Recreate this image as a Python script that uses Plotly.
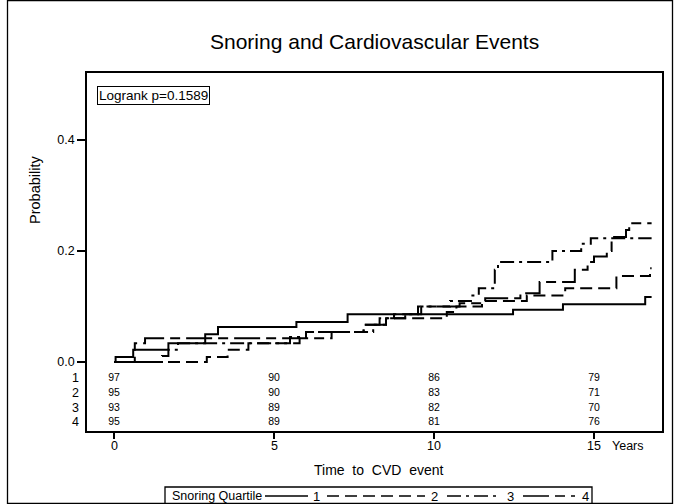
import plotly.graph_objects as go

# ---------------- data ----------------
quartiles = ["1", "2", "3", "4"]

t1 = [0, 0.05, 0.6, 1.7, 2.85, 3.25, 5.7, 7.3, 12.47, 14.03, 16.6, 16.8]
v1 = [0, 0.009, 0.022, 0.034, 0.05, 0.063, 0.072, 0.086, 0.094, 0.104, 0.117, 0.117]

t2 = [0, 2.9, 3.55, 4.2, 5.8, 6.0, 7.8, 8.5, 10.4, 10.7, 11.5, 12.9, 14.1, 15.7, 16.75, 16.8]
v2 = [0, 0.009, 0.022, 0.034, 0.045, 0.054, 0.067, 0.079, 0.09, 0.1, 0.11, 0.12, 0.133, 0.155, 0.169, 0.169]

t3 = [0, 1.5, 1.7, 2.0, 5.5, 6.0, 8.1, 8.3, 9.1, 9.6, 10.5, 11.2, 11.4, 11.9, 12.0, 13.7, 14.6, 14.9, 16.8]
v3 = [0, 0.011, 0.022, 0.034, 0.045, 0.054, 0.067, 0.079, 0.086, 0.1, 0.11, 0.12, 0.133, 0.166, 0.18, 0.2, 0.213, 0.223, 0.223]

t4 = [0, 0.65, 0.97, 6.8, 7.8, 8.5, 8.75, 9.5, 10.8, 11.6, 12.7, 13.3, 14.4, 14.8, 15.0, 15.4, 15.55, 16.0, 16.1, 16.8]
v4 = [0, 0.034, 0.043, 0.054, 0.067, 0.079, 0.086, 0.1, 0.106, 0.115, 0.124, 0.144, 0.166, 0.18, 0.19, 0.2, 0.225, 0.238, 0.25, 0.25]

risk_times = [0, 5, 10, 15]
risk_q1 = [97, 90, 86, 79]
risk_q2 = [95, 90, 83, 71]
risk_q3 = [93, 89, 82, 70]
risk_q4 = [95, 89, 81, 76]

x_ticks = [0, 5, 10, 15]
x_ticktext = ["0", "5", "10", "15"]
y_ticks = [0, 0.2, 0.4]
y_ticktext = ["0.0", "0.2", "0.4"]

title_text = "Snoring and Cardiovascular Events"
logrank_text = "Logrank p=0.1589"

# ---------------- layout helpers ----------------
W, H = 676, 504
L, R, T, B = 87, 662, 73, 431  # plot area in pixels
FONT = "Liberation Sans, Arial, sans-serif"


def px(x):
    return (x - L) / (R - L)


def py(y):
    return (B - y) / (B - T)


dashes = ["solid", "12px,6px", "14px,5px,3px,5px", "26px,6px,10px,6px"]
curves = [(t1, v1), (t2, v2), (t3, v3), (t4, v4)]
risks = [risk_q1, risk_q2, risk_q3, risk_q4]
row_y = [-0.0288, -0.0559, -0.0829, -0.1081]

fig = go.Figure()
for (t, v), d, q in zip(curves, dashes, quartiles):
    fig.add_trace(go.Scatter(
        x=t, y=v, mode="lines", name=q, showlegend=False,
        line=dict(shape="hv", color="black", width=2, dash=d),
        hoverinfo="skip"))

for r, yy in zip(risks, row_y):
    fig.add_trace(go.Scatter(
        x=risk_times, y=[yy] * len(risk_times), mode="text",
        text=[str(n) for n in r], textposition="middle center",
        textfont=dict(family=FONT, size=10.5, color="black"),
        showlegend=False, hoverinfo="skip", cliponaxis=False))

ann = []
# title
ann.append(dict(xref="paper", yref="paper", x=px(374), y=py(41), text=title_text,
                showarrow=False, font=dict(family=FONT, size=21, color="black"),
                xanchor="center", yanchor="middle"))
# logrank box
ann.append(dict(xref="paper", yref="paper", x=px(97), y=py(95.5), text=logrank_text,
                showarrow=False, font=dict(family=FONT, size=13.5, color="black"),
                xanchor="left", yanchor="middle", bordercolor="black", borderwidth=1,
                borderpad=1, bgcolor="white"))
# y title
ann.append(dict(xref="paper", yref="paper", x=px(35), y=py(190), text="Probability",
                showarrow=False, textangle=-90, font=dict(family=FONT, size=14.5, color="black"),
                xanchor="center", yanchor="middle"))
# row labels
for q, yy in zip(quartiles, row_y):
    ann.append(dict(xref="paper", yref="y", x=px(81), y=yy, text=q, showarrow=False,
                    font=dict(family=FONT, size=12.5, color="black"),
                    xanchor="right", yanchor="middle"))
# x tick labels
for xv, xt in zip(x_ticks, x_ticktext):
    ann.append(dict(xref="x", yref="paper", x=xv, y=py(446), text=xt, showarrow=False,
                    font=dict(family=FONT, size=12.5, color="black"),
                    xanchor="center", yanchor="middle"))
# Years
ann.append(dict(xref="paper", yref="paper", x=px(610), y=py(446), text="Years",
                showarrow=False, font=dict(family=FONT, size=12.5, color="black"),
                xanchor="left", yanchor="middle"))
# x title
ann.append(dict(xref="paper", yref="paper", x=px(379), y=py(470),
                text="Time\u00a0 to\u00a0 CVD\u00a0 event", showarrow=False,
                font=dict(family=FONT, size=14, color="black"),
                xanchor="center", yanchor="middle"))

# legend box
shapes = []
shapes.append(dict(type="rect", xref="paper", yref="paper", x0=px(165), x1=px(592),
                   y0=py(505), y1=py(487), line=dict(color="black", width=1.3)))
ann.append(dict(xref="paper", yref="paper", x=px(170), y=py(496),
                text="Snoring Quartile", showarrow=False,
                font=dict(family=FONT, size=12.5, color="black"),
                xanchor="left", yanchor="middle"))
leg_lines = [(265, 308, 316), (327, 425, 434), (447, 500, 510), (523, 575, 585)]
for (a, b, lab), d, q in zip(leg_lines, dashes, quartiles):
    shapes.append(dict(type="line", xref="paper", yref="paper", x0=px(a), x1=px(b),
                       y0=py(496), y1=py(496), line=dict(color="black", width=1.3, dash=d)))
    ann.append(dict(xref="paper", yref="paper", x=px(lab), y=py(496), text=q,
                    showarrow=False, font=dict(family=FONT, size=13, color="black"),
                    xanchor="center", yanchor="middle"))

# outer border
shapes.append(dict(type="rect", xref="paper", yref="paper", x0=px(7.5), x1=px(672.5),
                   y0=py(503.5), y1=py(0.5), line=dict(color="black", width=1.3)))

fig.update_layout(
    width=W, height=H, autosize=False,
    margin=dict(l=L, r=W - R, t=T, b=H - B, pad=0),
    paper_bgcolor="white", plot_bgcolor="white",
    font=dict(family=FONT, size=12.5, color="black"),
    annotations=ann, shapes=shapes, showlegend=False,
    xaxis=dict(range=[(L - 114) / 32, (R - 114) / 32], tickvals=x_ticks,
               showticklabels=False,
               ticks="outside", ticklen=6, tickwidth=1.8, tickcolor="black",
               showline=True, linecolor="black", linewidth=1.6, mirror=True,
               showgrid=False, zeroline=False),
    yaxis=dict(range=[-(B - 362) / 555, (362 - T) / 555], tickvals=y_ticks,
               ticktext=y_ticktext, ticks="outside", ticklen=8, tickwidth=1.8,
               tickcolor="black", showline=True, linecolor="black", linewidth=1.6,
               mirror=True, showgrid=False, zeroline=False, tickfont=dict(size=12.5)),
)

fig.write_html("out.html")
